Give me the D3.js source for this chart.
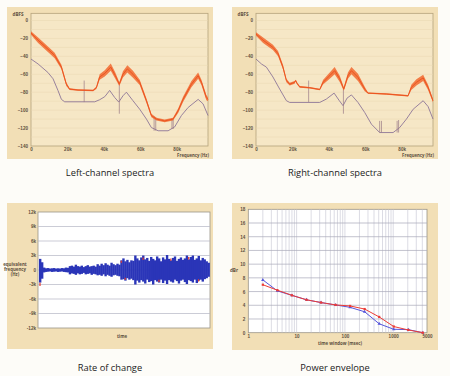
<!DOCTYPE html>
<html>
<head>
<meta charset="utf-8">
<script src="https://cdn.jsdelivr.net/npm/d3@7"></script>
<style>
  body { margin: 0; background: #fdfcf8; }
  svg { display: block; font-family: 'Open Sans', sans-serif; }
</style>
</head>
<body>
<div id="chart"></div>
<script>
// --- data -----------------------------------------------------------------

// spectra (frequency in kHz, level in dBFS)
const specYTicks = [0, -20, -40, -60, -80, -100, -120, -140];
const specXTicks = [0, 20, 40, 60, 80];

const leftOrangeK      = [0, 3.9, 9.3, 13, 16.7, 19.4, 21.2, 25.8, 34.1, 35.9, 37.7, 40.5, 43.8, 46.3, 48.5, 50.5, 52.9, 56.0, 59.7, 63.4, 66.1, 68.9, 73.4, 78.0, 80.8, 83.5, 88.1, 91.8, 93.6, 96.3, 97.2];
const leftOrangeDb     = [-14, -22, -32, -39, -52, -71, -76.5, -77.6, -78, -75, -63, -59, -52, -61.5, -71, -60, -54, -60, -69, -89.5, -106, -110, -112, -110, -100.7, -88, -71, -61.5, -69, -86, -88];
const leftOrangeSpread = [2, 3, 3, 3, 2.5, 2, 1, 0.8, 0.8, 1.5, 3, 3.5, 4, 3.5, 2, 3.5, 4, 4, 3, 2.5, 2, 1.5, 1.5, 1.5, 2.5, 3, 3.5, 3.5, 3, 3, 2];
const leftGrayK  = [0, 3.9, 9.3, 12.1, 14.8, 16.7, 18.5, 35, 37.7, 40.5, 43.2, 46.0, 48.2, 50.5, 52.4, 56.0, 59.7, 63.4, 66.1, 69.8, 75.3, 78.9, 82.6, 86.3, 91.8, 94.5, 97.2];
const leftGrayDb = [-43, -48.5, -58, -65, -78, -88, -90.7, -90.7, -88.4, -85, -78, -86, -91, -84, -80, -89.5, -99, -110, -119.4, -123, -123, -118.7, -106, -97, -88, -93, -106];
const leftSpikeK      = [29.2, 48.5, 67.6, 68.5, 77.4, 78.1];
const leftSpikeTop    = [-67, -71, -107, -108, -109, -110];
const leftSpikeBottom = [-91, -104, -123, -123, -121, -121];

const rightOrangeK      = [0, 3.9, 9.3, 12.1, 14.8, 16.7, 18.5, 21.2, 21.8, 22.5, 24.0, 29.5, 35.0, 36.8, 40.5, 43.2, 46.0, 48.2, 50.5, 52.4, 56.0, 59.7, 61.5, 71.6, 83.5, 85.3, 88.1, 91.8, 94.5, 97.2];
const rightOrangeDb     = [-15, -22, -30, -37, -52, -67, -71, -69, -67, -70, -74, -75, -77, -69, -61.5, -56, -65, -76.5, -61.5, -56, -63.4, -76.5, -81, -82, -84, -74.6, -69, -64, -74.6, -89.5];
const rightOrangeSpread = [2, 3, 3, 3, 2.5, 2, 1.5, 1.5, 1, 1, 1, 0.8, 0.8, 2.5, 3.5, 4, 3.5, 2, 3.5, 4, 4, 2.5, 0.8, 0.8, 0.8, 3, 3.5, 3.5, 3, 2];
const rightGrayK  = [0, 3, 5.7, 9.3, 13, 16.7, 18.5, 35, 38.6, 42.9, 45.6, 47.8, 50.0, 52.4, 56, 59.7, 63.4, 67.9, 75.3, 78.9, 82.6, 86.3, 91.8, 94.5, 97.2];
const rightGrayDb = [-43, -48.5, -52, -63, -76.5, -89.5, -91.4, -91.4, -87.7, -81, -89, -95, -86.6, -83, -91.4, -102.6, -115.7, -125, -125, -119.4, -110, -99, -89.5, -96, -110];
const rightSpikeK      = [28.9, 48.0, 67.9, 68.9, 77.5, 78.3];
const rightSpikeTop    = [-67, -76, -112, -112, -112, -111];
const rightSpikeBottom = [-91, -104, -125, -125, -125, -125];

// rate of change (kHz per time bin)
const rocYTicks = [12, 9, 6, 3, 0, -3, -6, -9, -12];
const rocMax = [2.3, 1.6, 0.5, 0.35, 0.4, 0.3, 0.35, 0.4, 0.3, 0.35, 0.3, 0.4, 0.35, 0.5, 0.45, 0.8, 0.9, 0.7, 1.1, 0.8, 0.7, 0.9, 0.6, 0.8, 1.0, 0.7, 0.8, 0.9, 0.7, 1.2, 0.9, 1.3, 1.0, 1.4, 1.1, 0.9, 1.5, 1.2, 1.0, 1.3, 1.1, 2.0, 2.4, 1.8, 2.1, 1.6, 2.0, 1.9, 3.0, 2.4, 2.0, 2.6, 3.0, 2.2, 2.5, 1.9, 2.7, 2.3, 2.0, 2.8, 2.4, 1.8, 2.6, 2.2, 3.1, 2.3, 2.0, 2.5, 2.8, 1.9, 2.3, 2.6, 2.1, 2.4, 3.0, 2.2, 2.7, 3.0, 2.1, 2.4, 2.9, 2.0, 2.5, 2.2, 1.8, 1.5];
const rocMin = [-2.6, -1.8, -0.5, -0.4, -0.35, -0.3, -0.4, -0.35, -0.3, -0.4, -0.35, -0.3, -0.4, -0.45, -0.5, -0.9, -0.7, -0.8, -1.0, -0.7, -0.9, -0.8, -0.6, -0.9, -0.8, -0.7, -1.0, -0.8, -0.9, -1.1, -1.0, -1.2, -0.9, -1.3, -1.0, -1.2, -1.4, -1.1, -1.0, -1.2, -1.3, -2.0, -1.9, -2.2, -1.7, -2.0, -1.8, -2.1, -3.0, -2.2, -2.6, -2.1, -2.4, -2.8, -2.0, -2.5, -2.3, -3.0, -2.1, -2.4, -2.6, -2.0, -2.7, -2.2, -2.9, -2.1, -2.4, -2.6, -2.0, -2.3, -2.8, -2.2, -2.0, -2.5, -2.9, -2.1, -2.3, -2.6, -2.0, -2.7, -2.2, -2.0, -2.4, -1.9, -1.7, -1.4];
const rocRedAt  = [0, 41, 43, 52, 60, 66, 75, 80];
const rocRedVal = [-3.3, 1.9, -2.0, 2.6, -2.5, 2.4, 2.7, -2.4];

// power envelope (time window in msec, dBr)
const envYTicks = [0, 2, 4, 6, 8, 10, 12, 14, 16, 18];
const envXTicks = [1, 10, 100, 1000, 5000];
const envWindow = [2, 4, 8, 16, 32, 64, 128, 256, 512, 1024, 2048, 4096];
const envRed    = [7.0, 6.2, 5.45, 4.8, 4.4, 4.05, 3.9, 3.45, 2.3, 0.9, 0.4, 0];
const envBlue   = [7.7, 6.1, 5.45, 4.8, 4.4, 4.05, 3.7, 3.05, 1.3, 0.5, 0.45, 0];

// --- chart ------------------------------------------------------------------
const width = 450;
const height = 376;

const beige = '#f2dfb6';
const tickColor = '#5e5040';

let svg = d3.select('#chart')
    .append('svg')
        .attr('width', width)
        .attr('height', height);

function styleAxis(g, anchor) {
    g.select('.domain').remove();
    g.selectAll('line').remove();
    g.selectAll('text')
        .attr('font-size', 4.6)
        .attr('font-weight', 'bold')
        .attr('fill', tickColor)
        .style('text-anchor', anchor);
}

function caption(cx, txt) {
    svg.append('text')
        .attr('x', cx)
        .attr('y', txt.y)
        .attr('text-anchor', 'middle')
        .attr('font-size', 9.3)
        .attr('fill', '#222')
        .text(txt.t);
}

// spectra panel
function specPanel(ox, oK, oDb, oSp, gK, gDb, sK, sTop, sBot, title) {
    let g = svg.append('g');

    g.append('rect')
        .attr('x', ox + 7).attr('y', 7)
        .attr('width', 206).attr('height', 152)
        .attr('fill', beige);

    let x = d3.scaleLinear().domain([0, 97.2]).range([ox + 31, ox + 208]);
    let y = d3.scaleLinear().domain([-140, 0]).range([146, 20.5]);

    g.append('rect')
        .attr('x', x(0)).attr('y', y(8))
        .attr('width', x(97.2) - x(0)).attr('height', y(-140) - y(8))
        .attr('fill', '#f6e7c6')
        .attr('stroke', '#b5a27c')
        .attr('stroke-width', 0.8);

    // faint grid
    g.append('g')
        .selectAll('line')
        .data(d3.range(-130, 8, 10))
        .join('line')
            .attr('x1', x(0)).attr('x2', x(97.2))
            .attr('y1', d => y(d)).attr('y2', d => y(d))
            .attr('stroke', '#e8d6b0')
            .attr('stroke-width', 0.5);

    // gray (lower) curve
    g.append('path')
        .datum(d3.range(gK.length))
        .attr('d', d3.line().x(i => x(gK[i])).y(i => y(gDb[i])))
        .attr('fill', 'none')
        .attr('stroke', '#8d7697')
        .attr('stroke-width', 0.9);

    // spikes
    g.append('g')
        .selectAll('line')
        .data(d3.range(sK.length))
        .join('line')
            .attr('x1', i => x(sK[i])).attr('x2', i => x(sK[i]))
            .attr('y1', i => y(sTop[i])).attr('y2', i => y(sBot[i]))
            .attr('stroke', '#9a7a86')
            .attr('stroke-width', 0.7);

    // orange (upper) curve with its noise band
    g.append('path')
        .datum(d3.range(oK.length))
        .attr('d', d3.area().x(i => x(oK[i])).y0(i => y(oDb[i] - oSp[i])).y1(i => y(oDb[i] + oSp[i])))
        .attr('fill', '#f16a30')
        .attr('opacity', 0.85);

    g.append('path')
        .datum(d3.range(oK.length))
        .attr('d', d3.line().x(i => x(oK[i])).y(i => y(oDb[i])))
        .attr('fill', 'none')
        .attr('stroke', '#ec5420')
        .attr('stroke-width', 1);

    // axes
    g.append('g')
        .attr('transform', `translate(${x(0) - 2},0)`)
        .call(d3.axisLeft(y).tickValues(specYTicks).tickSize(0).tickPadding(1))
        .call(styleAxis, 'end');

    g.append('g')
        .attr('transform', `translate(0,${y(-140) + 1})`)
        .call(d3.axisBottom(x).tickValues(specXTicks).tickSize(0).tickPadding(1)
            .tickFormat(d => d === 0 ? '0' : d + 'k'))
        .call(styleAxis, 'middle');

    g.append('text')
        .attr('x', ox + 18).attr('y', 16)
        .attr('text-anchor', 'middle')
        .attr('font-size', 4.6).attr('font-weight', 'bold').attr('fill', tickColor)
        .text('dBFS');

    g.append('text')
        .attr('x', ox + 193).attr('y', 156.5)
        .attr('text-anchor', 'middle')
        .attr('font-size', 4.3).attr('font-weight', 'bold').attr('fill', tickColor)
        .text('Frequency (Hz)');

    caption(ox + 110, {y: 176, t: title});
}

specPanel(0, leftOrangeK, leftOrangeDb, leftOrangeSpread, leftGrayK, leftGrayDb,
    leftSpikeK, leftSpikeTop, leftSpikeBottom, 'Left-channel spectra');
specPanel(225, rightOrangeK, rightOrangeDb, rightOrangeSpread, rightGrayK, rightGrayDb,
    rightSpikeK, rightSpikeTop, rightSpikeBottom, 'Right-channel spectra');

// rate of change panel
{
    let g = svg.append('g');

    g.append('rect')
        .attr('x', 7).attr('y', 203)
        .attr('width', 206).attr('height', 146)
        .attr('fill', beige);

    let x = d3.scaleBand().domain(d3.range(rocMax.length)).range([39, 209.5]).padding(0);
    let y = d3.scaleLinear().domain([-12, 12]).range([328, 212]);

    g.append('rect')
        .attr('x', 38).attr('y', y(12))
        .attr('width', 172).attr('height', y(-12) - y(12))
        .attr('fill', '#fff')
        .attr('stroke', '#9a9488')
        .attr('stroke-width', 0.8);

    g.append('g')
        .selectAll('line')
        .data(rocYTicks.filter(d => Math.abs(d) !== 12))
        .join('line')
            .attr('x1', 38).attr('x2', 210)
            .attr('y1', d => y(d)).attr('y2', d => y(d))
            .attr('stroke', '#b4b6c4')
            .attr('stroke-width', 0.7);

    // waveform envelope, one bar per time bin
    g.append('g')
        .selectAll('rect')
        .data(d3.range(rocMax.length))
        .join('rect')
            .attr('x', i => x(i))
            .attr('width', x.bandwidth() + 0.4)
            .attr('y', i => y(rocMax[i]))
            .attr('height', i => y(rocMin[i]) - y(rocMax[i]))
            .attr('fill', '#2a35b8');

    g.append('g')
        .selectAll('line')
        .data(d3.range(rocRedAt.length))
        .join('line')
            .attr('x1', i => x(rocRedAt[i]) + 1).attr('x2', i => x(rocRedAt[i]) + 1)
            .attr('y1', i => y(rocRedVal[i])).attr('y2', i => y(rocRedVal[i] * 0.8))
            .attr('stroke', '#e83a2a')
            .attr('stroke-width', 1.2);

    let yAxisScale = d3.scaleLinear().domain([-12, 12]).range([328, 212]);
    g.append('g')
        .attr('transform', 'translate(37,0)')
        .call(d3.axisLeft(yAxisScale).tickValues(rocYTicks).tickSize(0).tickPadding(1)
            .tickFormat(d => d === 0 ? '0' : d + 'k'))
        .call(styleAxis, 'end');

    g.append('text')
        .attr('text-anchor', 'middle')
        .attr('font-size', 4.4).attr('font-weight', 'bold').attr('fill', tickColor)
        .selectAll('tspan')
        .data(['equivalent', 'frequency', '(Hz)'])
        .join('tspan')
            .attr('x', 15)
            .attr('y', (d, i) => 266 + i * 4.8)
            .text(d => d);

    g.append('text')
        .attr('x', 122).attr('y', 338)
        .attr('text-anchor', 'middle')
        .attr('font-size', 4.4).attr('font-weight', 'bold').attr('fill', tickColor)
        .text('time');

    caption(110, {y: 371, t: 'Rate of change'});
}

// power envelope panel
{
    let g = svg.append('g');

    g.append('rect')
        .attr('x', 232).attr('y', 203)
        .attr('width', 206).attr('height', 147)
        .attr('fill', beige);

    let x = d3.scaleLog().domain([1, 5000]).range([248.3, 427]);
    let y = d3.scaleLinear().domain([0, 18]).range([332.7, 209.3]);

    g.append('rect')
        .attr('x', x(1)).attr('y', y(18))
        .attr('width', x(5000) - x(1)).attr('height', y(0) - y(18))
        .attr('fill', '#fff')
        .attr('stroke', '#9a9488')
        .attr('stroke-width', 0.8);

    // log grid
    let minor = [];
    [1, 10, 100, 1000].forEach(dec => d3.range(2, 10).forEach(m => { if (m * dec < 5000) minor.push(m * dec); }));
    g.append('g')
        .selectAll('line')
        .data(minor.concat([10, 100, 1000]))
        .join('line')
            .attr('x1', d => x(d)).attr('x2', d => x(d))
            .attr('y1', y(18)).attr('y2', y(0))
            .attr('stroke', '#c4c4d2')
            .attr('stroke-width', 0.6);

    g.append('g')
        .selectAll('line')
        .data(envYTicks.slice(1, -1))
        .join('line')
            .attr('x1', x(1)).attr('x2', x(5000))
            .attr('y1', d => y(d)).attr('y2', d => y(d))
            .attr('stroke', '#a8a8b8')
            .attr('stroke-width', 0.7);

    function envLine(vals, color, sym) {
        g.append('path')
            .datum(d3.range(envWindow.length))
            .attr('d', d3.line().x(i => x(envWindow[i])).y(i => y(vals[i])))
            .attr('fill', 'none')
            .attr('stroke', color)
            .attr('stroke-width', 1);
        g.append('g')
            .selectAll('path')
            .data(d3.range(envWindow.length))
            .join('path')
                .attr('transform', i => `translate(${x(envWindow[i])},${y(vals[i])})`)
                .attr('d', d3.symbol().type(sym).size(5))
                .attr('fill', color);
    }
    envLine(envBlue, '#5656dc', d3.symbolTriangle);
    envLine(envRed, '#ec3c36', d3.symbolSquare);

    g.append('g')
        .attr('transform', `translate(${x(1) - 2},0)`)
        .call(d3.axisLeft(y).tickValues(envYTicks).tickSize(0).tickPadding(1))
        .call(styleAxis, 'end');

    g.append('g')
        .attr('transform', `translate(0,${y(0) + 1})`)
        .call(d3.axisBottom(x).tickValues(envXTicks).tickSize(0).tickPadding(1)
            .tickFormat(d3.format('d')))
        .call(styleAxis, 'middle');

    g.append('text')
        .attr('x', 234).attr('y', 272)
        .attr('text-anchor', 'middle')
        .attr('font-size', 4.6).attr('font-weight', 'bold').attr('fill', tickColor)
        .text('dBr');

    g.append('text')
        .attr('x', 340).attr('y', 345)
        .attr('text-anchor', 'middle')
        .attr('font-size', 4.4).attr('font-weight', 'bold').attr('fill', tickColor)
        .text('time window (msec)');

    caption(335, {y: 371, t: 'Power envelope'});
}
</script>
</body>
</html>
